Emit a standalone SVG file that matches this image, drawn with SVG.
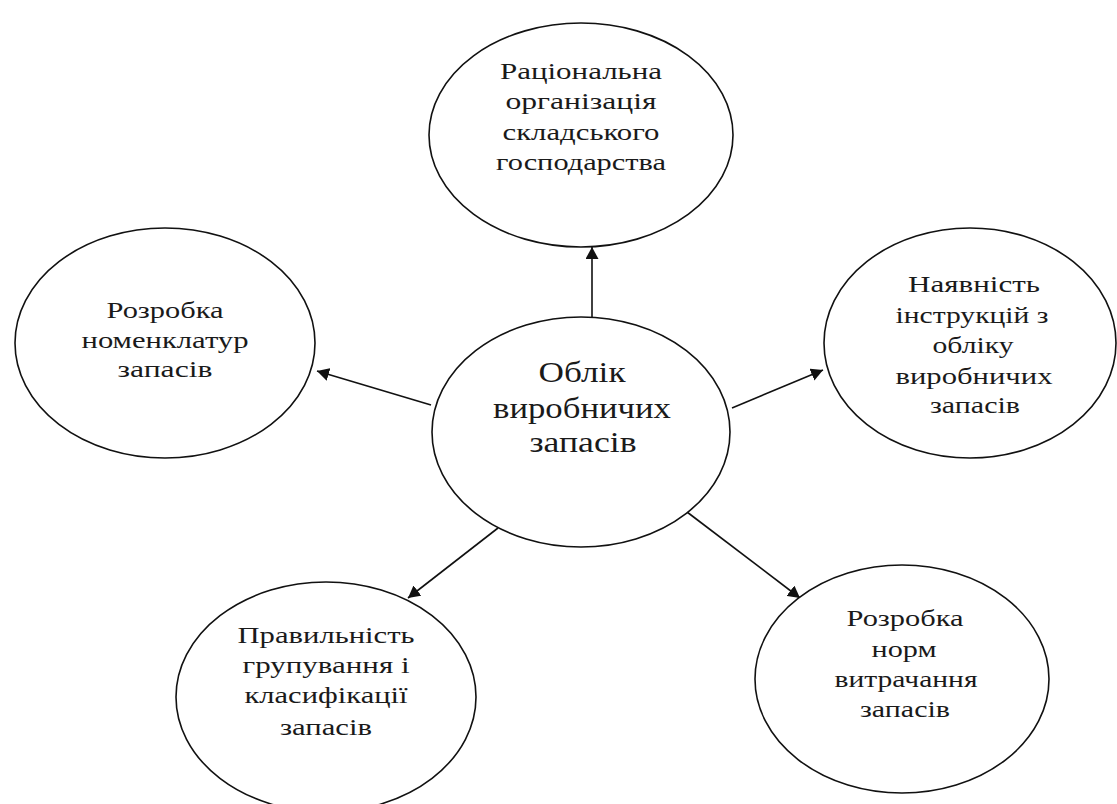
<svg xmlns="http://www.w3.org/2000/svg" width="1117" height="804" viewBox="0 0 1117 804">
<style>
.node ellipse{fill:#fff;stroke:#111;stroke-width:1.6}
.node text{font-family:"Liberation Serif","Times New Roman",serif;font-size:23px;fill:#1a1a1a;text-anchor:middle}
#n-center text{font-size:29px}
.edge{stroke:#111;stroke-width:1.6;fill:none;marker-end:url(#ah)}
</style>
<defs>
<marker id="ah" markerUnits="userSpaceOnUse" markerWidth="13" markerHeight="13" refX="12" refY="6.5" orient="auto">
<path d="M0,0 L12,6.5 L0,13 z" fill="#111"/>
</marker>
</defs>
<rect width="1117" height="804" fill="#fff"/>
<g id="connectors">
<line class="edge" x1="592" y1="317" x2="592" y2="247"/>
<line class="edge" x1="431" y1="405" x2="317" y2="371"/>
<line class="edge" x1="732" y1="408" x2="823" y2="370"/>
<line class="edge" x1="498" y1="528" x2="408" y2="598"/>
<line class="edge" x1="687" y1="512" x2="800" y2="598"/>
</g>
<g id="n-top" class="node">
<ellipse cx="581" cy="135" rx="152" ry="112"/>
<text x="581" y="79" textLength="162" lengthAdjust="spacingAndGlyphs">Раціональна</text>
<text x="581" y="109" textLength="151" lengthAdjust="spacingAndGlyphs">організація</text>
<text x="581" y="140" textLength="157" lengthAdjust="spacingAndGlyphs">складського</text>
<text x="581" y="170" textLength="170" lengthAdjust="spacingAndGlyphs">господарства</text>
</g>
<g id="n-left" class="node">
<ellipse cx="165" cy="343" rx="150" ry="115"/>
<text x="165" y="318" textLength="117" lengthAdjust="spacingAndGlyphs">Розробка</text>
<text x="165" y="348" textLength="167" lengthAdjust="spacingAndGlyphs">номенклатур</text>
<text x="165" y="377" textLength="95" lengthAdjust="spacingAndGlyphs">запасів</text>
</g>
<g id="n-right" class="node">
<ellipse cx="970" cy="343" rx="146" ry="115"/>
<text x="974" y="292" textLength="132" lengthAdjust="spacingAndGlyphs">Наявність</text>
<text x="972" y="323" textLength="153" lengthAdjust="spacingAndGlyphs">інструкцій з</text>
<text x="973" y="353" textLength="81" lengthAdjust="spacingAndGlyphs">обліку</text>
<text x="974" y="384" textLength="157" lengthAdjust="spacingAndGlyphs">виробничих</text>
<text x="975" y="413" textLength="90" lengthAdjust="spacingAndGlyphs">запасів</text>
</g>
<g id="n-center" class="node">
<ellipse cx="581" cy="432" rx="149" ry="115"/>
<text x="582" y="382" textLength="87" lengthAdjust="spacingAndGlyphs">Облік</text>
<text x="582" y="418" textLength="178" lengthAdjust="spacingAndGlyphs">виробничих</text>
<text x="583" y="452" textLength="107" lengthAdjust="spacingAndGlyphs">запасів</text>
</g>
<g id="n-bottom-left" class="node">
<ellipse cx="326" cy="697" rx="150" ry="115"/>
<text x="326" y="643" textLength="177" lengthAdjust="spacingAndGlyphs">Правильність</text>
<text x="326" y="673" textLength="167" lengthAdjust="spacingAndGlyphs">групування і</text>
<text x="326" y="703" textLength="163" lengthAdjust="spacingAndGlyphs">класифікації</text>
<text x="326" y="735" textLength="92" lengthAdjust="spacingAndGlyphs">запасів</text>
</g>
<g id="n-bottom-right" class="node">
<ellipse cx="902" cy="679" rx="147" ry="114"/>
<text x="905" y="626" textLength="117" lengthAdjust="spacingAndGlyphs">Розробка</text>
<text x="904" y="657" textLength="65" lengthAdjust="spacingAndGlyphs">норм</text>
<text x="906" y="687" textLength="143" lengthAdjust="spacingAndGlyphs">витрачання</text>
<text x="905" y="717" textLength="90" lengthAdjust="spacingAndGlyphs">запасів</text>
</g>
</svg>
